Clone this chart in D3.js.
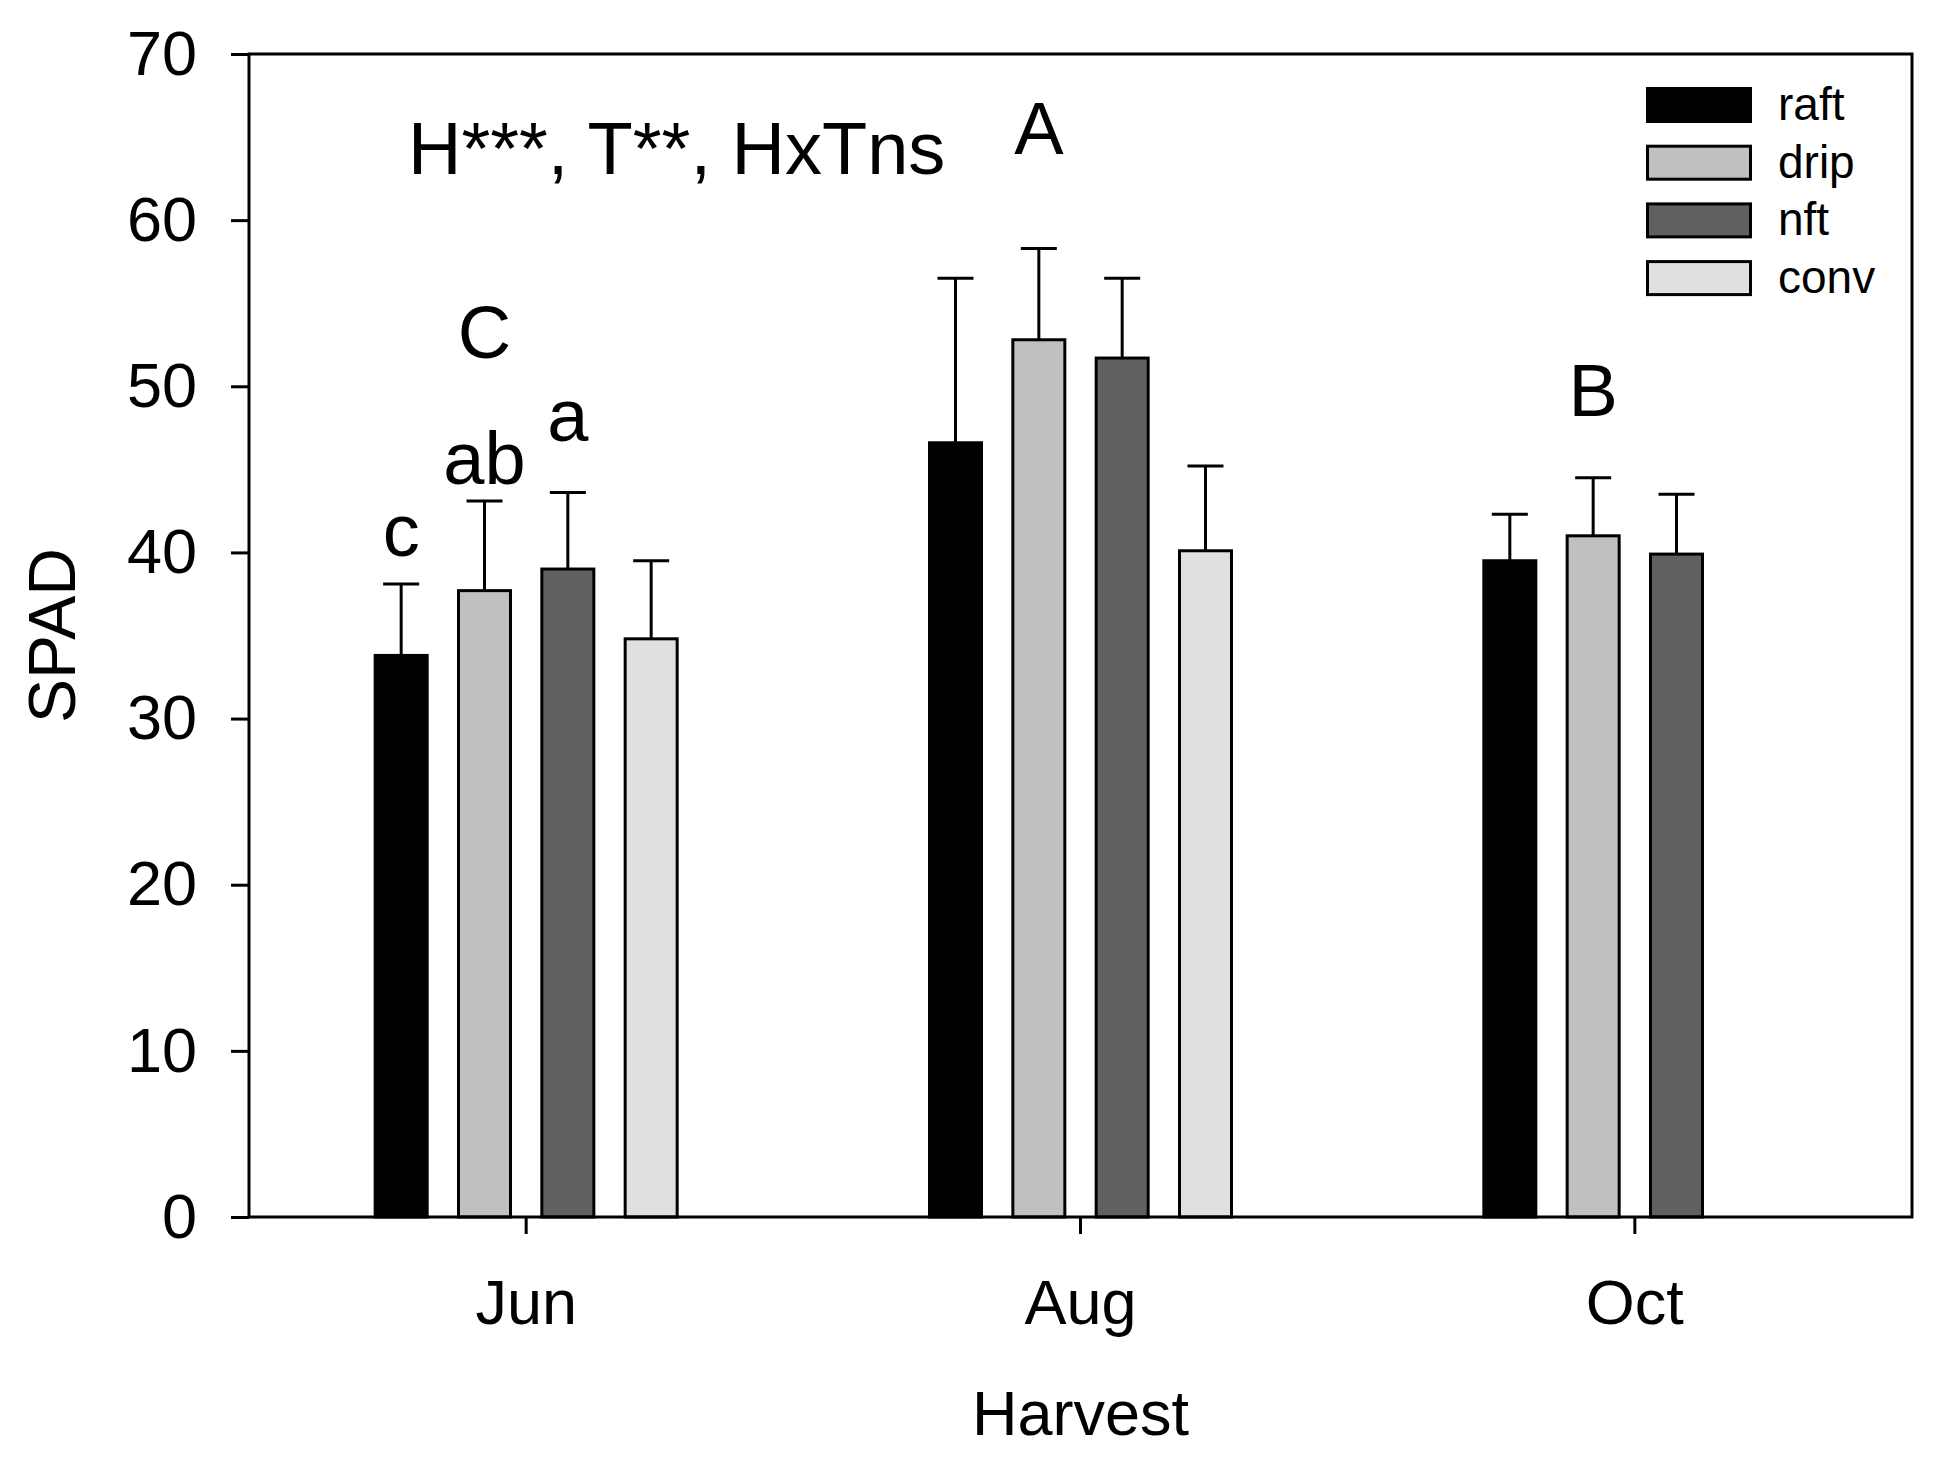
<!DOCTYPE html>
<html>
<head>
<meta charset="utf-8">
<script src="https://cdn.jsdelivr.net/npm/d3@7"></script>
<style>
  body { margin: 0; background: #fff; }
  text { font-family: "Liberation Sans", Arial, sans-serif; fill: #000; }
</style>
</head>
<body>
<svg id="chart" width="1938" height="1464"></svg>
<script>
// SPAD by harvest and growing system
const harvests = ['Jun', 'Aug', 'Oct'];
const systems = ['raft', 'drip', 'nft', 'conv'];
const colors = ['#000000', '#c0c0c0', '#606060', '#e0e0e0'];

// means per harvest, in system order (null = no bar)
const raft = [33.8, 46.6, 39.5];
const drip = [37.7, 52.8, 41.0];
const nft = [39.0, 51.7, 39.9];
const conv = [34.8, 40.1, null];

// upper error bar ends
const raftErr = [38.1, 56.5, 42.3];
const dripErr = [43.1, 58.3, 44.5];
const nftErr = [43.6, 56.5, 43.5];
const convErr = [39.5, 45.2, null];

const yTicks = [0, 10, 20, 30, 40, 50, 60, 70];

// letters over bars: [harvest, system, letter, y value of baseline]
const barLetters = [
  ['Jun', 'raft', 'c', 39.8],
  ['Jun', 'drip', 'ab', 44.1],
  ['Jun', 'nft', 'a', 46.7]
];
// harvest letters, placed over the drip bar
const harvestLetters = [
  ['Jun', 'C', 51.7],
  ['Aug', 'A', 64.0],
  ['Oct', 'B', 48.2]
];
const statsText = 'H***, T**, HxTns';

const means = [raft, drip, nft, conv];
const errs = [raftErr, dripErr, nftErr, convErr];

const svg = d3.select('#chart');
const plotLeft = 249, plotRight = 1912, plotTop = 54, plotBottom = 1217;

const x = d3.scaleBand().domain(harvests).range([plotLeft, plotRight]).padding(0);
const xs = d3.scaleBand().domain(systems).range([-151, 151]).paddingInner(0.376).paddingOuter(0);
const y = d3.scaleLinear().domain([0, 70]).range([plotBottom, plotTop]);

const rows = [];
harvests.forEach((h, i) => {
  systems.forEach((s, j) => {
    if (means[j][i] != null) {
      rows.push({ h, s, j, v: means[j][i], e: errs[j][i] });
    }
  });
});

const gBars = svg.append('g');
const bx = d => x(d.h) + x.bandwidth() / 2 + xs(d.s);

// error bars (drawn first so the bar outline sits on top)
gBars.selectAll('line.err')
  .data(rows)
  .join('line')
  .attr('x1', d => bx(d) + xs.bandwidth() / 2)
  .attr('x2', d => bx(d) + xs.bandwidth() / 2)
  .attr('y1', d => y(d.v))
  .attr('y2', d => y(d.e))
  .attr('stroke', '#000')
  .attr('stroke-width', 3);

gBars.selectAll('line.cap')
  .data(rows)
  .join('line')
  .attr('class', 'cap')
  .attr('x1', d => bx(d) + xs.bandwidth() / 2 - 18)
  .attr('x2', d => bx(d) + xs.bandwidth() / 2 + 18)
  .attr('y1', d => y(d.e))
  .attr('y2', d => y(d.e))
  .attr('stroke', '#000')
  .attr('stroke-width', 3);

gBars.selectAll('rect')
  .data(rows)
  .join('rect')
  .attr('x', d => bx(d))
  .attr('y', d => y(d.v))
  .attr('width', xs.bandwidth())
  .attr('height', d => y(0) - y(d.v))
  .attr('fill', d => colors[d.j])
  .attr('stroke', '#000')
  .attr('stroke-width', 3);

// axes
const yAxis = d3.axisLeft(y).tickValues(yTicks).tickSize(18).tickPadding(34).tickSizeOuter(0);
const gy = svg.append('g').attr('transform', `translate(${plotLeft},0)`).call(yAxis);
gy.select('.domain').remove();
gy.selectAll('line').attr('stroke-width', 3);
gy.selectAll('text').attr('font-size', 63).style('font-family', '"Liberation Sans", Arial, sans-serif');

const xAxis = d3.axisBottom(x).tickSize(17).tickPadding(45).tickSizeOuter(0);
const gx = svg.append('g').attr('transform', `translate(0,${plotBottom})`).call(xAxis);
gx.select('.domain').remove();
gx.selectAll('line').attr('stroke-width', 3);
gx.selectAll('text').attr('font-size', 63).style('font-family', '"Liberation Sans", Arial, sans-serif');

// frame
svg.append('rect')
  .attr('x', plotLeft)
  .attr('y', plotTop)
  .attr('width', plotRight - plotLeft)
  .attr('height', plotBottom - plotTop)
  .attr('fill', 'none')
  .attr('stroke', '#000')
  .attr('stroke-width', 3);

// axis titles
svg.append('text')
  .attr('transform', `translate(75,${(plotTop + plotBottom) / 2}) rotate(-90)`)
  .attr('text-anchor', 'middle')
  .attr('font-size', 66)
  .text('SPAD');

svg.append('text')
  .attr('x', (plotLeft + plotRight) / 2)
  .attr('y', 1435)
  .attr('text-anchor', 'middle')
  .attr('font-size', 63)
  .text('Harvest');

// statistics note
svg.append('text')
  .attr('x', 408)
  .attr('y', 174)
  .attr('font-size', 74)
  .text(statsText);

// letters
svg.selectAll('text.bl')
  .data(barLetters)
  .join('text')
  .attr('class', 'bl')
  .attr('x', d => x(d[0]) + x.bandwidth() / 2 + xs(d[1]) + xs.bandwidth() / 2)
  .attr('y', d => y(d[3]))
  .attr('text-anchor', 'middle')
  .attr('font-size', 74)
  .text(d => d[2]);

svg.selectAll('text.hl')
  .data(harvestLetters)
  .join('text')
  .attr('class', 'hl')
  .attr('x', d => x(d[0]) + x.bandwidth() / 2 + xs('drip') + xs.bandwidth() / 2)
  .attr('y', d => y(d[2]))
  .attr('text-anchor', 'middle')
  .attr('font-size', 74)
  .text(d => d[1]);

// legend
const legend = svg.append('g').attr('transform', 'translate(1646,87)');
const item = legend.selectAll('g')
  .data(systems)
  .join('g')
  .attr('transform', (d, i) => `translate(0,${i * 57.7})`);

item.append('rect')
  .attr('x', 1.5)
  .attr('y', 1.5)
  .attr('width', 103)
  .attr('height', 33)
  .attr('fill', (d, i) => colors[i])
  .attr('stroke', '#000')
  .attr('stroke-width', 3);

item.append('text')
  .attr('x', 132)
  .attr('y', 33)
  .attr('font-size', 46)
  .text(d => d);
</script>
</body>
</html>
